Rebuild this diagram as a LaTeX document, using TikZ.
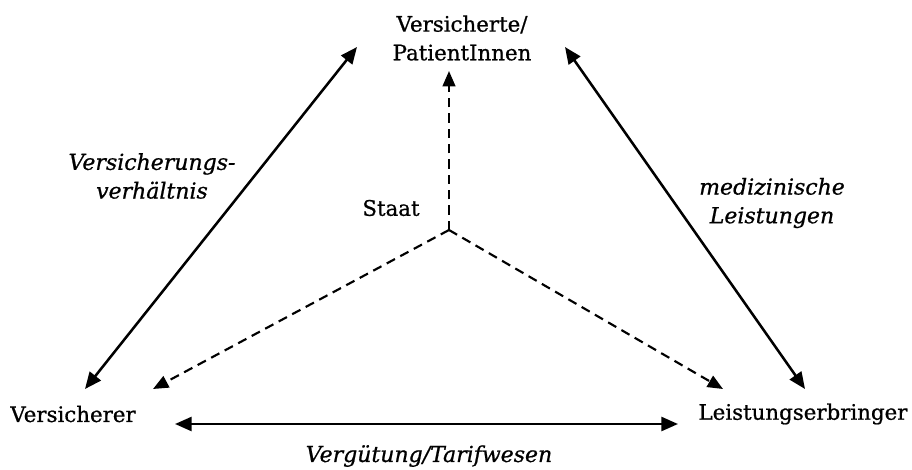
\documentclass[tikz,border=0pt]{standalone}
\usepackage{fontspec}
\setmainfont{DejaVu Serif}[FakeBold=0.8]
\usetikzlibrary{arrows.meta}
\begin{document}
\begin{tikzpicture}[x=0.75pt,y=-0.75pt,
  lbl/.style={font=\fontsize{16}{21.5}\selectfont, inner sep=0pt, align=center},
  ilbl/.style={lbl, font=\fontsize{16.5}{21.5}\selectfont\itshape},
  solidarr/.style={line width=1.9pt, {Triangle[length=12.5pt,width=10.5pt]}-{Triangle[length=12.5pt,width=10.5pt]}},
  dasharr/.style={line width=1.6pt, dash pattern=on 7pt off 4.5pt, -{Triangle[length=11.5pt,width=9.5pt]}}]
\useasboundingbox (0,0) rectangle (912,470);
\node[lbl] (pat) at (462,38) {Versicherte/\\PatientInnen};
\node[lbl] (ver) at (73,414) {Versicherer};
\node[lbl] (lei) at (803,414) {Leistungserbringer};
\node[lbl] (staat) at (391,208) {Staat};
\node[ilbl] (vv) at (152,176) {Versicherungs-\\verhältnis};
\node[ilbl] (ml) at (772,203) {medizinische\\Leistungen};
\node[ilbl] (vt) at (429,456) {Vergütung/Tarifwesen};
\coordinate (S) at (449,230);
\coordinate (Ptop) at (449,71);
\coordinate (Vd) at (153,389);
\coordinate (Ld) at (723,389);
\coordinate (Vs) at (85,389);
\coordinate (Ps) at (357,47);
\coordinate (Ls) at (805,389);
\coordinate (Pr) at (565,47);
\coordinate (Vb) at (175,424);
\coordinate (Lb) at (678,424);
\draw[dasharr] (S) -- (Ptop);
\draw[dasharr] (S) -- (Vd);
\draw[dasharr] (S) -- (Ld);
\draw[solidarr] (Vs) -- (Ps);
\draw[solidarr] (Ls) -- (Pr);
\draw[solidarr] (Vb) -- (Lb);
\end{tikzpicture}
\end{document}
